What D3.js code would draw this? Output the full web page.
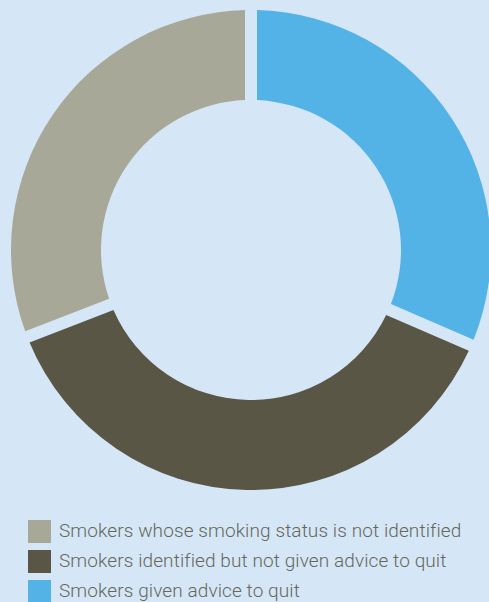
<!DOCTYPE html>
<html>
<head>
<meta charset="utf-8">
<script src="https://cdn.jsdelivr.net/npm/d3@7"></script>
<style>
  html, body { margin: 0; padding: 0; background: #d5e7f6; overflow: hidden; }
</style>
</head>
<body>
<div id="donut"></div>
<script>
// chart data (order = clockwise from 12 o'clock)
var categories = ["Smokers given advice to quit",
                  "Smokers identified but not given advice to quit",
                  "Smokers whose smoking status is not identified"];
var shares = [31.5, 37.6, 30.9];
var colours = ["#53b3e6", "#595646", "#a8a899"];
// legend order as printed under the chart
var legendOrder = [2, 1, 0];

var width = 489, height = 602;
var cx = 251, cy = 250, outerR = 240, innerR = 150;

var svg = d3.select("#donut")
  .append("svg")
  .attr("width", width)
  .attr("height", height);

var data = categories.map(function(c, i) {
  return {name: c, value: shares[i], colour: colours[i]};
});

var pie = d3.pie()
  .sort(null)
  .value(function(d) { return d.value; });

var arc = d3.arc()
  .innerRadius(innerR)
  .outerRadius(outerR)
  .padRadius(outerR)
  .padAngle(12 / outerR);

var g = svg.append("g")
  .attr("transform", "translate(" + cx + "," + cy + ")");

g.selectAll("path")
  .data(pie(data))
  .enter()
  .append("path")
  .attr("d", arc)
  .attr("fill", function(d) { return d.data.colour; });

// legend
var legend = svg.append("g")
  .attr("transform", "translate(28,520)");

var rows = legend.selectAll("g")
  .data(legendOrder.map(function(i) { return data[i]; }))
  .enter()
  .append("g")
  .attr("transform", function(d, i) { return "translate(0," + (i * 30) + ")"; });

rows.append("rect")
  .attr("width", 23)
  .attr("height", 23)
  .attr("fill", function(d) { return d.colour; });

rows.append("text")
  .attr("x", 31)
  .attr("y", 17)
  .style("font-family", "Roboto, sans-serif")
  .style("font-weight", "300")
  .style("font-size", "19px")
  .style("letter-spacing", "0.1px")
  .attr("fill", "#66665c")
  .text(function(d) { return d.name; });
</script>
</body>
</html>
